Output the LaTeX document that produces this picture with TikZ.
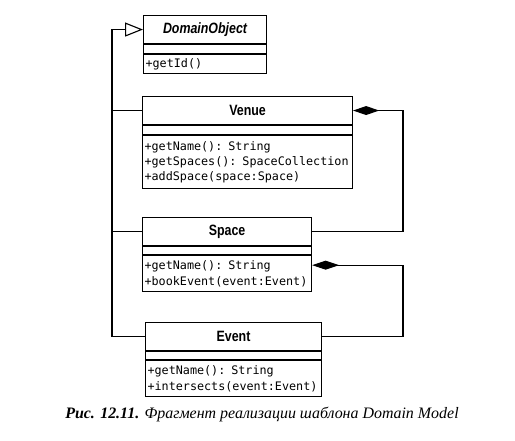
\documentclass[tikz,border=0pt]{standalone}
\usepackage{fontspec}
\usetikzlibrary{arrows.meta}
\newfontfamily\titlefont[FakeStretch=0.83]{Liberation Sans}
\newfontfamily\methfont{DejaVu Sans Mono}
\newfontfamily\capfont{Liberation Serif}

\begin{document}
\begin{tikzpicture}[x=1bp,y=-1bp,
    classbox/.style={draw,line width=1.1bp,inner sep=0pt,anchor=north west},
    title/.style={classbox,minimum height=28bp,font=\titlefont\bfseries\fontsize{15}{17}\selectfont},
    attrs/.style={classbox,minimum height=9bp},
    meths/.style={classbox,align=left,inner xsep=2bp,font=\methfont\fontsize{11.8}{15.5}\selectfont},
    link/.style={line width=1.1bp}]
    \useasboundingbox (0,0) rectangle (515,441);
    % DomainObject
    \node[title,minimum width=123bp] (domain) at (143,15) {\itshape DomainObject};
    \node[attrs,minimum width=123bp] (domainA) at (domain.south west) {};
    \node[meths,text width=119bp,minimum height=19bp] (domainM) at (domainA.south west) {+getId()};
    % Venue
    \node[title,minimum width=210bp] (venue) at (142,96) {Venue};
    \node[attrs,minimum width=210bp] (venueA) at (venue.south west) {};
    \node[meths,text width=206bp,minimum height=53bp] (venueM) at (venueA.south west) {+getName(): String\\+getSpaces(): SpaceCollection\\+addSpace(space:Space)};
    % Space
    \node[title,minimum width=169bp] (space) at (142,217) {Space};
    \node[attrs,minimum width=169bp,minimum height=8bp] (spaceA) at (space.south west) {};
    \node[meths,text width=165bp,minimum height=36bp] (spaceM) at (spaceA.south west) {+getName(): String\\+bookEvent(event:Event)};
    % Event
    \node[title,minimum width=176bp] (event) at (145,322) {Event};
    \node[attrs,minimum width=176bp,minimum height=8bp] (eventA) at (event.south west) {};
    \node[meths,text width=172bp,minimum height=36bp] (eventM) at (eventA.south west) {+getName(): String\\+intersects(event:Event)};
    % connectors
    \coordinate (rail) at (112,30);
    \coordinate (rright) at (403,110);
    \draw[link,-{Triangle[open,length=18bp,width=14bp]}] (event.west) -- (event.west -| rail) |- (domain.west);
    \draw[link] (venue.west) -- (venue.west -| rail);
    \draw[link] (space.west) -- (space.west -| rail);
    \draw[link,-{Diamond[length=26bp,width=9bp]}] (space.east) -- (space.east -| rright) |- (venue.east);
    \draw[link,-{Diamond[length=27bp,width=9bp]}] (event.east) -- (event.east -| rright) |- ([yshift=-10bp]spaceM.north east);
    % caption
    \node[font=\capfont\itshape\fontsize{16}{18}\selectfont] (caption) at (262,414) {\textbf{Рис. 12.11.} Фрагмент реализации шаблона Domain Model};
\end{tikzpicture}
\end{document}
